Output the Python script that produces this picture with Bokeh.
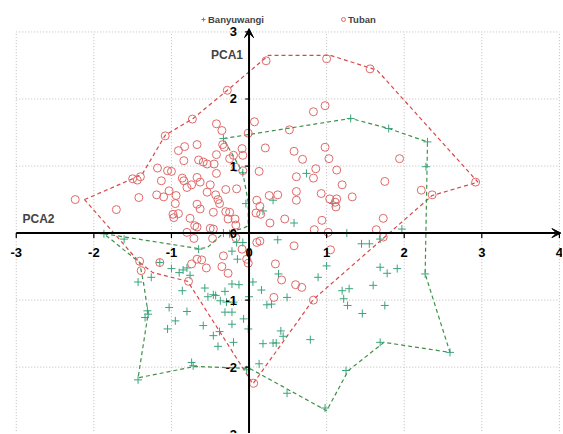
from bokeh.plotting import figure
from bokeh.models import (ColumnDataSource, Legend, LegendItem, Label, Arrow, VeeHead, Range1d)
from bokeh.core.properties import value
from bokeh.embed import file_html
from bokeh.resources import INLINE

# ---------------- data ----------------
tuban_x = [-2.24, -1.71, -1.50, -1.44, -1.40, -1.42, -1.19, -1.10, -1.13, -1.18, -1.05, -1.00, -1.08, -1.03,
           -0.94, -0.95, -0.98, -0.97, -0.91, -0.91, -0.83, -0.84, -0.86, -0.84, -0.80, -0.76, -0.74, -0.80,
           -0.73, -0.67, -0.65, -0.59, -0.54, -0.67, -0.63, -0.67, -0.63, -0.70, -0.67, -0.42, -0.35, -0.34,
           -0.32, -0.42, -0.45, -0.42, -0.50, -0.54, -0.43, -0.40, -0.38, -0.46, -0.30, -0.25, -0.27, -0.18,
           -0.17, -0.30, -0.16, -0.25, -0.20, -0.09, -0.08, -0.17, -0.08, -0.50, -0.46, -0.47, -0.71, -0.28,
           -0.01, 0.07,
           0.21, 0.13, 0.26, 0.37, 0.10, 0.14, 0.09, 0.15, 0.27, 0.46, 0.52, 0.58, 0.69, 0.61, 0.61, 0.61,
           0.83, 0.98, 0.98, 1.03, 0.86, 0.83, 0.93, 1.13, 1.20, 1.13, 1.04, 1.12, 0.94, 0.84, 0.22, 1.00, 1.11,
           1.56, 1.94, 1.75, 1.33, 2.22, 2.36, 2.92, 1.73, 1.64, 1.73, 1.02, 0.58, 1.05,
           -0.61, -0.55, -0.33, -0.35, -0.27, -0.17, -0.09, -0.03, -0.01, 0.10, 0.14, 0.34, 0.42, 0.60, 0.68,
           0.32, 0.83, 0.06,
           -1.41, -1.39, -1.15, -0.78, -0.74, -0.67]
tuban_y = [0.50, 0.35, 0.81, 0.79, 0.84, 0.53, 0.57, 0.54, 0.78, 0.97, 0.93, 0.92, 1.45, 0.63,
           0.56, 0.44, 0.28, 0.23, 0.29, 1.23, 1.29, 1.08, 0.82, 0.78, 0.68, 0.22, 0.72, 0.01,
           1.70, 1.32, 1.09, 1.06, 1.03, 0.83, 0.76, 0.43, 0.36, 0.11, 0.09, 1.63, 1.53, 1.32,
           1.28, 1.17, 1.03, 0.89, 0.72, 0.61, 0.57, 0.50, 0.44, 0.31, 0.32, 0.31, 0.21, 0.21,
           0.12, 0.65, 0.66, 1.11, 1.16, 1.26, 1.16, 0.98, 0.93, 0.07, 0.06, -0.08, -0.08, 2.13,
           1.49, 1.66,
           1.27, 0.92, 0.56, 0.57, 0.49, 0.40, 0.30, 0.28, 0.15, 0.21, 1.54, 1.22, 1.10, 0.84, 0.62, 0.49,
           1.81, 1.90, 1.28, 1.11, 0.96, 0.82, 0.59, 0.94, 0.72, 0.51, 0.51, 0.39, 0.19, 0.05, 2.57, 2.60, 0.46,
           2.45, 1.11, 0.77, 0.54, 0.64, 0.57, 0.76, 0.22, 0.05, -0.06, 0.01, -0.19, -0.25,
           -0.40, -0.52, -0.34, -0.50, -0.60, -0.07, -0.24, -0.39, -0.45, -0.14, -0.12, -0.46, -0.70, -0.77, -0.81,
           -0.96, -1.00, -2.24,
           -0.42, -0.56, -0.44, -0.72, -0.46, -0.39]

banyuwangi_x = [-0.33, -0.08, 1.31, 1.80, 2.30, 2.28, 0.74, 0.31, 0.18, -0.04, 0.58, 1.08, -0.33, -0.25,
                0.37, 1.26, 1.97, 1.45, 1.55, 1.69, 1.00, 1.69, 1.91, 1.78, 1.60, 1.20, 1.29, 1.22, 1.27,
                1.46, 1.75, 2.27, 2.59, 1.69, 1.25, 0.98, 0.89, -0.22, -0.15, -0.22, -0.13, -0.31, -0.46,
                -0.43, 0.05, 0.16, 0.38, 0.00, -0.53, -0.37, -0.29, -0.20, 0.23, 0.29, 0.49, -0.31, -0.22,
                -0.22, -0.07, -0.59, -0.46, -0.38, -0.40, -0.20, -0.01, 0.18, 0.31, 0.35, 0.41, 0.44, 0.79,
                0.13, -0.03, 0.49, -1.43, -1.26, -1.00, -0.90, -0.85, -0.80, -0.76, -0.86, -0.57, -1.03,
                -0.80, -1.31, -1.30, -1.34, -0.95, -1.05, -0.74, -0.72, -1.43, -0.65, -1.87, -1.61, -0.16,
                -0.08, -1.15]
banyuwangi_y = [1.41, 0.90, 1.71, 1.56, 1.36, 0.99, 0.89, 0.49, 0.33, 0.44, 0.15, 0.44, 0.00, -0.01,
                -0.10, 0.00, 0.06, -0.16, -0.16, -0.09, -0.49, -0.51, -0.53, -0.60, -0.78, -0.86, -0.83, -0.98, -1.08,
                -1.20, -1.08, -0.61, -1.78, -1.63, -2.05, -2.61, -0.66, -0.27, -0.39, -0.76, -0.77, -0.87, -0.92,
                -0.93, -0.73, -0.85, -0.61, -0.95, -0.95, -1.01, -1.03, -1.03, -1.07, -1.06, -0.96, -1.18, -1.18,
                -1.36, -1.28, -1.38, -1.53, -1.47, -1.69, -1.63, -1.43, -1.65, -1.64, -1.64, -1.46, -1.54, -1.59,
                -1.95, -2.04, -2.39, -0.73, -0.66, -0.53, -0.59, -0.55, -0.52, -0.63, -0.86, -0.82, -1.11,
                -1.17, -1.16, -1.21, -1.26, -1.31, -1.43, -1.93, -1.98, -2.19, -0.24, -0.01, -0.09, -0.14,
                -0.14, -0.44]

tuban_hull_x = [-2.12, -1.50, -1.37, -1.08, -0.72, -0.28, 0.25, 1.05, 1.65, 2.95, 2.36, 0.83, 0.05, -0.79, -1.24, -1.41]
tuban_hull_y = [0.50, 0.81, 0.89, 1.46, 1.71, 2.13, 2.65, 2.65, 2.43, 0.76, 0.56, -0.99, -2.25, -0.72, -0.59, -0.44]

banyuwangi_hull_x = [-0.33, 1.31, 1.80, 2.30, 2.27, 2.59, 1.74, 1.28, 1.00, 0.01, -0.70, -1.43, -1.30, -1.36, -1.41,
                     -1.87, -0.66, -0.54, -0.34, -0.08, -0.01, -0.01, -0.08]
banyuwangi_hull_y = [1.41, 1.71, 1.56, 1.36, -0.61, -1.78, -1.63, -2.05, -2.65, -2.02, -1.99, -2.16, -1.20, -0.74, -0.44,
                     -0.01, -0.23, -0.22, -0.01, 0.07, 0.11, 0.46, 0.90]

x_ticks = [-3, -2, -1, 0, 1, 2, 3, 4]
x_tick_labels = ["-3", "-2", "-1", "0", "1", "2", "3", "4"]
y_ticks = [-3, -2, -1, 0, 1, 2, 3]
y_tick_labels = ["-3", "-2", "-1", "0", "1", "2", "3"]

# ---------------- styles ----------------
FONT = value("Liberation Sans")
RED_PT = "#df6a6a"
RED_HULL = "#d84848"
GREEN_PT = "#3aa47c"
GREEN_HULL = "#3f9147"
GRID = "#bdbdbd"

x_min, x_max = x_ticks[0], x_ticks[-1]
y_min, y_max = y_ticks[0], y_ticks[-1]
Y_LO, Y_HI = -2.99, 3.35

p = figure(width=562, height=433, output_backend="svg", toolbar_location=None,
           x_range=Range1d(-3.1, 4.04), y_range=Range1d(Y_LO, Y_HI),
           x_axis_type=None, y_axis_type=None, min_border=0,
           min_border_left=8, min_border_right=0, min_border_top=8, min_border_bottom=0)
p.outline_line_color = None
p.xgrid.visible = False
p.ygrid.visible = False

# dotted grid (drawn from tick arrays)
p.segment(x0=x_ticks, y0=[y_min] * len(x_ticks), x1=x_ticks, y1=[y_max] * len(x_ticks),
          line_color=GRID, line_dash="1 2", line_width=1)
p.segment(x0=[x_min] * len(y_ticks), y0=y_ticks, x1=[x_max] * len(y_ticks), y1=y_ticks,
          line_color=GRID, line_dash="1 2", line_width=1)

# hulls
p.patch(tuban_hull_x, tuban_hull_y, fill_color=None, line_color=RED_HULL, line_dash="4 3", line_width=1.2)
p.patch(banyuwangi_hull_x, banyuwangi_hull_y, fill_color=None, line_color=GREEN_HULL, line_dash="4 3", line_width=1.2)

# points
src_b = ColumnDataSource(dict(x=banyuwangi_x, y=banyuwangi_y))
src_t = ColumnDataSource(dict(x=tuban_x, y=tuban_y))
r_b = p.scatter("x", "y", source=src_b, marker="cross", size=8, line_color=GREEN_PT, line_width=1)
r_t = p.scatter("x", "y", source=src_t, marker="circle", size=8, fill_color=None, line_color=RED_PT, line_width=1)

# axes through origin with arrows
p.add_layout(Arrow(end=VeeHead(size=9, fill_color="black", line_color="black", line_width=1),
                   x_start=x_min, y_start=0, x_end=4.02, y_end=0, line_width=2, line_color="black"))
p.add_layout(Arrow(end=VeeHead(size=9, fill_color="black", line_color="black", line_width=1),
                   x_start=0, y_start=Y_LO, x_end=0, y_end=3.05, line_width=2, line_color="black"))

# tick marks
p.segment(x0=x_ticks, y0=[0] * len(x_ticks), x1=x_ticks, y1=[-0.075] * len(x_ticks), line_color="black", line_width=1.2)
p.segment(x0=[0] * len(y_ticks), y0=y_ticks, x1=[-0.05] * len(y_ticks), y1=y_ticks, line_color="black", line_width=1.2)

# tick labels
p.text(x=x_ticks, y=[0] * len(x_ticks), text=x_tick_labels, text_font=FONT, text_font_style="bold",
       text_font_size="13px", text_align="center", text_baseline="middle", y_offset=19, text_color="black")
p.text(x=[0] * len(y_ticks), y=y_ticks, text=y_tick_labels, text_font=FONT, text_font_style="bold",
       text_font_size="13px", text_align="right", text_baseline="middle", x_offset=-12, text_color="black")

# axis titles
p.add_layout(Label(x=0, y=2.65, x_offset=-6, text="PCA1", text_font="Liberation Sans", text_font_style="bold",
                   text_font_size="12px", text_align="right", text_baseline="middle"))
p.add_layout(Label(x=-2.92, y=0.21, text="PCA2", text_font="Liberation Sans", text_font_style="bold",
                   text_font_size="12px", text_align="left", text_baseline="middle"))

# legends (positions in screen px from the frame's lower-left corner)
for r, lab, sx in [(r_b, "Banyuwangi", 190), (r_t, "Tuban", 330)]:
    lg = Legend(items=[LegendItem(label=lab, renderers=[r])], location=(sx, 408),
                orientation="horizontal", padding=0, margin=0, glyph_width=10, glyph_height=12,
                label_standoff=0, border_line_color=None, background_fill_alpha=0,
                label_text_font="Liberation Sans", label_text_font_style="bold", label_text_font_size="9.5px")
    p.add_layout(lg, "center")

open("out.html", "w").write(file_html(p, INLINE))
